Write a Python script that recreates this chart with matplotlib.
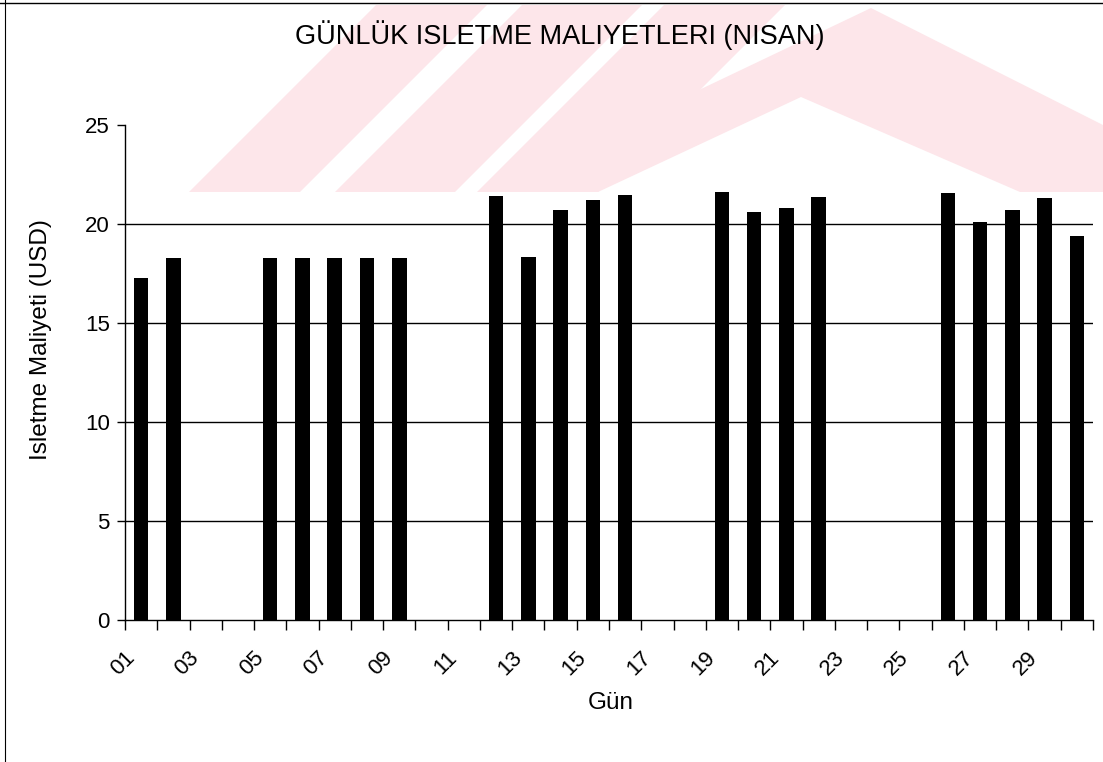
import matplotlib
matplotlib.use('Agg')

import numpy as np
from matplotlib import pyplot as plt
import matplotlib.transforms as mtrans
from matplotlib.patches import Polygon
from matplotlib.lines import Line2D

## data: daily operating cost, April
days = [f'{d:02d}' for d in range(1, 31)]
cost = [17.25, 18.3, 0, 0, 18.3, 18.3, 18.3, 18.3, 18.3, 0,
        0, 21.4, 18.35, 20.7, 21.2, 21.45, 0, 0, 21.6, 20.6,
        20.8, 21.35, 0, 0, 0, 21.55, 20.1, 20.7, 21.3, 19.4]
tick_days = days[::2]
y_ticks = [0, 5, 10, 15, 20, 25]

W, H = 1103, 762

# pale watermark of the scanned page (pixel coords, y from top)
watermark = [
  [(189, 192), (300, 192), (487, 5), (376, 5)],
  [(335, 192), (455, 192), (642, 5), (522, 5)],
  [(477, 192), (598, 192), (785, 5), (664, 5)],
  [(485, 192), (871, 8), (1103, 125), (1103, 192), (1020, 192), (801, 97), (598, 192)],
]


def px(pts):
  return [(x / W, 1 - y / H) for x, y in pts]


def main():
  plt.rcParams['font.family'] = ['Liberation Sans', 'DejaVu Sans']
  fig = plt.figure(figsize=(W / 100, H / 100), dpi=100)

  for poly in watermark:
    fig.add_artist(Polygon(px(poly), closed=True, facecolor='#fde6ea',
                           edgecolor='none', transform=fig.transFigure, zorder=0))

  # page frame lines (top, left)
  fig.add_artist(Line2D([0, 1], [1 - 3 / H, 1 - 3 / H], color='black', lw=1,
                        transform=fig.transFigure))
  fig.add_artist(Line2D([5 / W, 5 / W], [0, 1], color='black', lw=0.8,
                        transform=fig.transFigure))

  ax = fig.add_axes([125 / W, 1 - 620 / H, (1093 - 125) / W, (620 - 125) / H])
  ax.set_facecolor('none')

  x = np.arange(1, len(days) + 1)
  ax.bar(x, cost, width=0.45, color='black', edgecolor='none', zorder=3)

  ax.set_xlim(0.5, len(days) + 0.5)
  ax.set_ylim(0, 25)
  ax.set_yticks(y_ticks)
  ax.tick_params(axis='y', labelsize=16, length=6, width=1, direction='out', pad=5)
  for yv in y_ticks[1:-1]:
    ax.axhline(yv, color='black', lw=1, zorder=1)

  # ticks on category boundaries, labels on odd days
  ax.set_xticks(np.arange(0.5, len(days) + 1, 1))
  ax.set_xticklabels([])
  ax.tick_params(axis='x', which='major', length=7, width=1, direction='out')
  ax.set_xticks(x[::2], minor=True)
  ax.set_xticklabels(tick_days, minor=True, rotation=45, ha='right', va='center',
                     rotation_mode='anchor', fontsize=16)
  ax.tick_params(axis='x', which='minor', length=0, pad=25)
  off = mtrans.ScaledTranslation(-7 / 72, 0, fig.dpi_scale_trans)
  for lbl in ax.get_xticklabels(minor=True):
    lbl.set_transform(lbl.get_transform() + off)

  for s in ['top', 'right']:
    ax.spines[s].set_visible(False)
  ax.spines['left'].set_linewidth(1)
  ax.spines['bottom'].set_linewidth(1)

  fig.text(611 / W, 1 - 703 / H, 'Gün', ha='center', va='center', fontsize=17.5)
  fig.text(41 / W, 1 - 340 / H, 'Isletme Maliyeti (USD)', rotation=90,
           ha='center', va='center', fontsize=17.5)
  fig.text(560 / W, 1 - 35 / H, 'GÜNLÜK ISLETME MALIYETLERI (NISAN)',
           ha='center', va='center', fontsize=19.5)

  plt.savefig('out.png', dpi=100)


if __name__ == '__main__':
  main()
